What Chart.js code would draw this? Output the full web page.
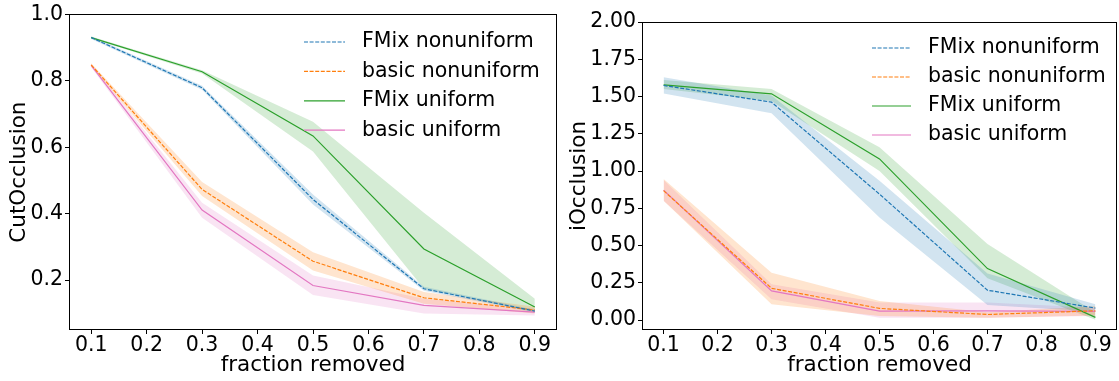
<!DOCTYPE html>
<html>
<head>
<meta charset="utf-8">
<script src="https://cdn.jsdelivr.net/npm/chart.js@4/dist/chart.umd.min.js"></script>
<style>
  html, body { margin: 0; padding: 0; background: #fff; }
  #wrap { position: relative; width: 1119px; height: 381px; overflow: hidden; }
  canvas { position: absolute; top: 0; }
  #cutChart { left: 0; }
  #iChart { left: 560px; }
</style>
</head>
<body>
<div id="wrap">
  <canvas id="cutChart" width="560" height="381"></canvas>
  <canvas id="iChart" width="559" height="381"></canvas>
</div>
<script>
// ---- data ----
const fractions = [0.1, 0.3, 0.5, 0.7, 0.9];
const xTicks = [0.1, 0.2, 0.3, 0.4, 0.5, 0.6, 0.7, 0.8, 0.9];
const cutTicks = [0.2, 0.4, 0.6, 0.8, 1.0];
const iTicks = [0, 0.25, 0.5, 0.75, 1.0, 1.25, 1.5, 1.75, 2.0];
const seriesNames = ["FMix nonuniform", "basic nonuniform", "FMix uniform", "basic uniform"];

// CutOcclusion: mean, lower and upper band
const cutFmixNonuni   = [0.930, 0.779, 0.443, 0.174, 0.107];
const cutFmixNonuniLo = [0.926, 0.773, 0.428, 0.168, 0.103];
const cutFmixNonuniHi = [0.934, 0.785, 0.458, 0.180, 0.111];
const cutBasicNonuni   = [0.848, 0.473, 0.257, 0.147, 0.110];
const cutBasicNonuniLo = [0.843, 0.453, 0.229, 0.129, 0.100];
const cutBasicNonuniHi = [0.853, 0.495, 0.284, 0.164, 0.120];
const cutFmixUni   = [0.930, 0.827, 0.634, 0.294, 0.119];
const cutFmixUniLo = [0.927, 0.822, 0.587, 0.174, 0.104];
const cutFmixUniHi = [0.933, 0.832, 0.677, 0.403, 0.144];
const cutBasicUni   = [0.846, 0.411, 0.184, 0.124, 0.104];
const cutBasicUniLo = [0.841, 0.388, 0.155, 0.100, 0.094];
const cutBasicUniHi = [0.851, 0.433, 0.214, 0.144, 0.114];

// iOcclusion: mean, lower and upper band
const iFmixNonuni   = [1.574, 1.462, 0.845, 0.200, 0.080];
const iFmixNonuniLo = [1.520, 1.388, 0.688, 0.100, 0.056];
const iFmixNonuniHi = [1.630, 1.507, 0.935, 0.312, 0.106];
const iBasicNonuni   = [0.868, 0.213, 0.078, 0.037, 0.062];
const iBasicNonuniLo = [0.800, 0.105, 0.027, 0.016, 0.030];
const iBasicNonuniHi = [0.946, 0.318, 0.128, 0.052, 0.094];
const iFmixUni   = [1.578, 1.518, 1.081, 0.345, 0.018];
const iFmixUniLo = [1.550, 1.470, 1.000, 0.280, 0.002];
const iFmixUniHi = [1.610, 1.550, 1.160, 0.510, 0.050];
const iBasicUni   = [0.872, 0.195, 0.060, 0.062, 0.058];
const iBasicUniLo = [0.800, 0.140, 0.016, 0.016, 0.027];
const iBasicUniHi = [0.940, 0.240, 0.117, 0.117, 0.083];

// ---- styles ----
const STYLES = [
  { color: "#1f77b4", band: "rgba(31,119,180,0.2)", dash: [4, 1.6] },
  { color: "#ff7f0e", band: "rgba(255,127,14,0.2)", dash: [4, 1.6] },
  { color: "#2ca02c", band: "rgba(44,160,44,0.2)", dash: [] },
  { color: "#e377c2", band: "rgba(227,119,194,0.2)", dash: [] },
];
const FAMILY = "'DejaVu Sans'";
const TICK_FONT = { family: FAMILY, size: 20.5 };
const TITLE_FONT = { family: FAMILY, size: 21.5 };
const LEGEND_SIZE = 20.5;

Chart.defaults.font.family = FAMILY;
Chart.defaults.color = "#000";

function points(values) {
  return fractions.map((x, i) => ({ x: x, y: values[i] }));
}

function buildDatasets(means, lows, highs) {
  const lines = means.map((m, k) => ({
    label: seriesNames[k],
    data: points(m),
    borderColor: STYLES[k].color,
    borderWidth: 1.2,
    borderDash: STYLES[k].dash,
    pointRadius: 0,
    fill: false,
    tension: 0,
  }));
  const bands = [];
  lows.forEach((lo, k) => {
    bands.push({
      label: seriesNames[k] + " low",
      data: points(lo),
      borderWidth: 0,
      borderColor: "transparent",
      pointRadius: 0,
      fill: false,
    });
    bands.push({
      label: seriesNames[k] + " high",
      data: points(highs[k]),
      borderWidth: 0,
      borderColor: "transparent",
      backgroundColor: STYLES[k].band,
      pointRadius: 0,
      fill: "-1",
    });
  });
  return lines.concat(bands);
}

// frame + legend drawn inside the plot area
const frameLegend = {
  id: "frameLegend",
  afterDraw(chart, args, opts) {
    const ctx = chart.ctx;
    const a = chart.chartArea;
    ctx.save();
    ctx.strokeStyle = "#000";
    ctx.lineWidth = 1;
    ctx.strokeRect(Math.round(a.left) + 0.5, Math.round(a.top) + 0.5,
      Math.round(a.right - a.left) - 1, Math.round(a.bottom - a.top) - 1);

    ctx.font = LEGEND_SIZE + "px " + FAMILY;
    ctx.textBaseline = "middle";
    ctx.textAlign = "left";
    seriesNames.forEach((name, k) => {
      const y = opts.y + k * opts.step;
      ctx.strokeStyle = STYLES[k].color;
      ctx.lineWidth = 1.2;
      ctx.setLineDash(STYLES[k].dash);
      ctx.beginPath();
      ctx.moveTo(opts.x, y);
      ctx.lineTo(opts.x + opts.len, y);
      ctx.stroke();
      ctx.setLineDash([]);
      ctx.fillStyle = "#000";
      ctx.fillText(name, opts.x + opts.len + opts.gap, y);
    });
    ctx.restore();
  },
};

function makeChart(id, datasets, cfg) {
  return new Chart(document.getElementById(id), {
    type: "line",
    data: { datasets: datasets },
    plugins: [frameLegend],
    options: {
      responsive: false,
      animation: false,
      devicePixelRatio: 1,
      layout: { padding: { left: 0, right: cfg.padRight, top: cfg.padTop, bottom: 0 } },
      plugins: {
        legend: { display: false },
        tooltip: { enabled: false },
        frameLegend: cfg.legend,
      },
      scales: {
        x: {
          type: "linear",
          min: 0.06,
          max: 0.94,
          afterBuildTicks: (s) => { s.ticks = xTicks.map((v) => ({ value: v })); },
          afterFit: (s) => { s.height = 51; },
          ticks: {
            callback: (v) => Number(v).toFixed(1),
            font: TICK_FONT, color: "#000", padding: -1, maxRotation: 0, autoSkip: false,
          },
          grid: { drawOnChartArea: false, drawTicks: true, tickLength: 4, tickColor: "#000" },
          border: { display: false },
          title: {
            display: true, text: "fraction removed", font: TITLE_FONT, color: "#000",
            padding: { top: 0, bottom: 3 },
          },
        },
        y: {
          type: "linear",
          min: cfg.yMin,
          max: cfg.yMax,
          afterBuildTicks: (s) => { s.ticks = cfg.yTicks.map((v) => ({ value: v })); },
          afterFit: (s) => { s.width = cfg.axisWidth; },
          ticks: {
            callback: (v) => Number(v).toFixed(cfg.decimals),
            font: TICK_FONT, color: "#000", padding: 2, autoSkip: false,
          },
          grid: { drawOnChartArea: false, drawTicks: true, tickLength: 4, tickColor: "#000" },
          border: { display: false },
          title: {
            display: true, text: cfg.yTitle, font: TITLE_FONT, color: "#000",
            padding: { top: 7, bottom: 0 },
          },
        },
      },
    },
  });
}

makeChart("cutChart",
  buildDatasets(
    [cutFmixNonuni, cutBasicNonuni, cutFmixUni, cutBasicUni],
    [cutFmixNonuniLo, cutBasicNonuniLo, cutFmixUniLo, cutBasicUniLo],
    [cutFmixNonuniHi, cutBasicNonuniHi, cutFmixUniHi, cutBasicUniHi]),
  {
    yMin: 0.05, yMax: 1.0, yTicks: cutTicks, decimals: 1, yTitle: "CutOcclusion",
    axisWidth: 69, padRight: 3, padTop: 13,
    legend: { x: 304, y: 42, step: 29.4, len: 41, gap: 17 },
  });

makeChart("iChart",
  buildDatasets(
    [iFmixNonuni, iBasicNonuni, iFmixUni, iBasicUni],
    [iFmixNonuniLo, iBasicNonuniLo, iFmixUniLo, iBasicUniLo],
    [iFmixNonuniHi, iBasicNonuniHi, iFmixUniHi, iBasicUniHi]),
  {
    yMin: -0.067, yMax: 2.0, yTicks: iTicks, decimals: 2, yTitle: "iOcclusion",
    axisWidth: 82, padRight: 2, padTop: 22,
    legend: { x: 312, y: 48, step: 29, len: 39, gap: 17 },
  });
</script>
</body>
</html>
